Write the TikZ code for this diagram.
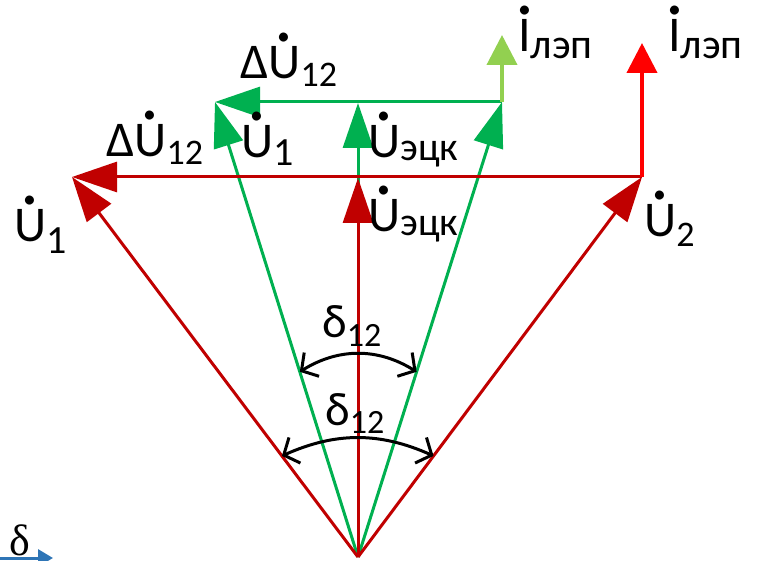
\documentclass[tikz,border=0pt]{standalone}
\usepackage{fontspec}
\setmainfont{Carlito}
\newfontfamily\serifgr{Liberation Serif}
\usetikzlibrary{arrows.meta,calc}
\definecolor{dred}{HTML}{C00000}
\definecolor{grn}{HTML}{00B050}
\definecolor{lgrn}{HTML}{92D050}
\definecolor{bred}{HTML}{FF0000}
\definecolor{blu}{HTML}{2E75B6}
\newcommand\vdot[1]{\ooalign{#1\cr\hidewidth\raisebox{0.74em}{\scalebox{1.5}{.}}\hidewidth\cr}}
% \sbs{size}{drop}{text}
\newcommand\sbs[3]{\raisebox{-#2pt}{\fontsize{#1}{#1}\selectfont #3}}
\tikzset{
 lab/.style={anchor=base west, inner sep=0pt, font=\fontsize{50}{50}\selectfont},
 dlab/.style={anchor=base west, inner sep=0pt, font=\fontsize{47}{47}\selectfont},
 rvec/.style={draw=dred, line width=3pt, -{Triangle[length=45pt,width=30pt]}},
 gvec/.style={draw=grn, line width=3pt, -{Triangle[length=45pt,width=30pt]}},
 ivec/.style={line width=4pt, -{Triangle[length=30pt,width=30pt]}},
 ang/.style={draw=black, line width=3pt, {Straight Barb[length=12pt,width=28pt]}-{Straight Barb[length=12pt,width=28pt]}},
}
\begin{document}
\begin{tikzpicture}[x=1pt,y=-1pt]
\useasboundingbox (0,0) rectangle (761,561);
\clip (0,0) rectangle (761,561);
% points
\coordinate (O) at (358,557);
\coordinate (R1) at (72,177);
\coordinate (R2) at (642,177);
\coordinate (RE) at (358,178);
\coordinate (RI) at (642,43);
\coordinate (G1) at (215,102);
\coordinate (G2) at (502,102);
\coordinate (GE) at (358,103);
\coordinate (GI) at (502,35);
\coordinate (BL0) at (-5,558);
\coordinate (BL1) at (53,558);
% green diagram
\draw[gvec] (O) -- (G1);
\draw[gvec] (O) -- (G2);
\draw[gvec] (O) -- (GE);
\draw[gvec] (G2) -- (G1);
\draw[ivec, draw=lgrn, fill=lgrn] (G2) -- (GI);
% red diagram
\draw[rvec] (O) -- (R1);
\draw[rvec] (O) -- (R2);
\draw[rvec] (O) -- (RE);
\draw[rvec] (R2) -- (R1);
\draw[ivec, draw=bred, fill=bred] (R2) -- (RI);
% angle arcs
\coordinate (gA) at ($(O)!0.407!(G1)$);
\coordinate (gB) at ($(O)!0.407!(G2)$);
\coordinate (rA) at ($(O)!0.266!(R1)$);
\coordinate (rB) at ($(O)!0.266!(R2)$);
\draw[ang] (gA) to[bend left=32] (gB);
\draw[ang] (rA) to[bend left=24] (rB);
% blue arrow (cut by the border)
\draw[blu, line width=3pt, -{Triangle[length=15pt,width=17pt]}] (BL0) -- (BL1);
% labels
\node[lab] (lR1) at (14,242) {\vdot{U}\sbs{40}{12}{1}};
\node[lab] (lRD) at (106,157) {Δ\vdot{U}\sbs{36}{8}{12}};
\node[lab] (lGD) at (240,79) {Δ\vdot{U}\sbs{36}{8}{12}};
\node[lab] (lG1) at (241,158) {\vdot{U}\sbs{40}{8}{1}};
\node[lab] (lGE) at (368,158) {\vdot{U}\sbs{40}{3}{эцк}};
\node[lab] (lRE) at (368,232) {\vdot{U}\sbs{40}{4}{эцк}};
\node[lab] (lR2) at (644,237) {\vdot{U}\sbs{36}{10}{2}};
\node[lab] (lGI) at (518,52) {\vdot{I}\sbs{42}{7}{лэп}};
\node[lab] (lRI) at (668,52) {\vdot{I}\sbs{42}{7}{лэп}};
\node[dlab] (dG) at (322,338) {δ\sbs{34}{9}{12}};
\node[dlab] (dR) at (325,425) {δ\sbs{34}{9}{12}};
\node[anchor=base west, inner sep=0pt, font=\serifgr\fontsize{44}{44}\selectfont] (dB) at (9,555) {δ};
\end{tikzpicture}
\end{document}
